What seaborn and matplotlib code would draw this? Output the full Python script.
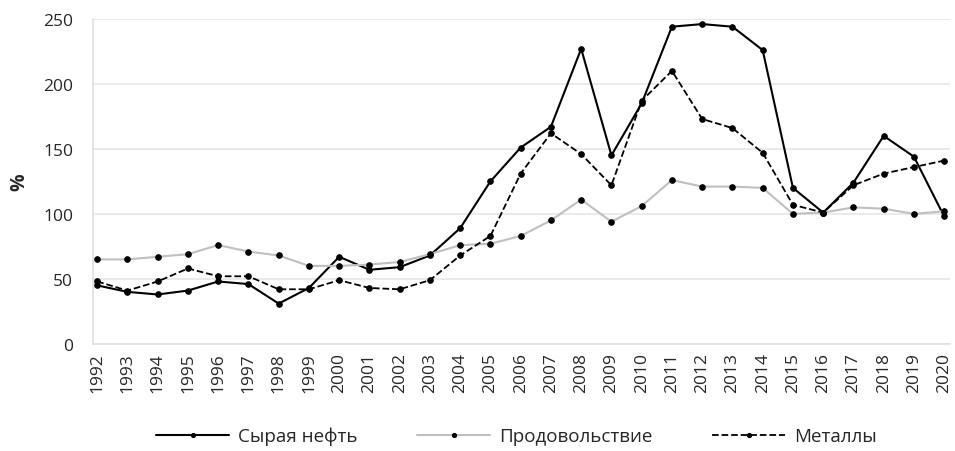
import matplotlib
matplotlib.use("Agg")
import matplotlib.pyplot as plt
import seaborn as sns
import pandas as pd

years = list(range(1992, 2021))
oil = [45, 40, 38, 41, 48, 46, 31, 43, 67, 57, 59, 68, 89, 125, 151, 167, 227, 145, 185, 244, 246, 244, 226, 120, 101, 124, 160, 144, 98]
food = [65, 65, 67, 69, 76, 71, 68, 60, 60, 61, 63, 69, 76, 77, 83, 95, 111, 94, 106, 126, 121, 121, 120, 100, 101, 105, 104, 100, 102]
metals = [48, 41, 48, 58, 52, 52, 42, 42, 49, 43, 42, 49, 68, 83, 131, 162, 146, 122, 187, 210, 173, 166, 147, 107, 101, 122, 131, 136, 141]
names = ["Сырая нефть", "Продовольствие", "Металлы"]

sns.set_theme(style="white")
plt.rcParams['font.family'] = ['Open Sans', 'DejaVu Sans']

df = pd.DataFrame({"year": years * 3,
                   "value": oil + food + metals,
                   "series": [names[0]] * len(years) + [names[1]] * len(years) + [names[2]] * len(years)})

fig = plt.figure(figsize=(9.55, 4.52), dpi=100)
ax = fig.add_axes([0.097, 0.237, 0.898, 0.719])

styles = {names[0]: dict(color="black", ls="-", lw=1.5),
          names[1]: dict(color="#bfbfbf", ls="-", lw=1.5),
          names[2]: dict(color="black", ls="--", lw=1.3)}
for n in names:
    sub = df[df.series == n]
    st = styles[n]
    sns.lineplot(data=sub, x="year", y="value", ax=ax, color=st["color"], linestyle=st["ls"],
                 linewidth=st["lw"], marker="o", markersize=4, markerfacecolor="black",
                 markeredgecolor="black", label=n)

ax.set_xlim(1991.85, 2020.2)
ax.set_ylim(0, 250)
ax.set_yticks([0, 50, 100, 150, 200, 250])
ax.set_xticks(years)
ax.set_xticklabels([str(y) for y in years], rotation=90)
ax.tick_params(axis='both', labelsize=12.5, length=0, pad=6)
ax.tick_params(axis='y', pad=14)
ax.yaxis.grid(True, color="#e6e6e6", lw=1.2)
ax.set_axisbelow(True)
for s in ["top", "right"]:
    ax.spines[s].set_visible(False)
for s in ["left", "bottom"]:
    ax.spines[s].set_color("#e0e0e0")
    ax.spines[s].set_linewidth(1.2)
ax.set_xlabel("")
ax.set_ylabel("%", fontsize=14, fontweight="bold", labelpad=10)

leg = ax.legend(loc="center", bbox_to_anchor=(0.494, -0.283), ncol=3, frameon=False,
                fontsize=13.5, handlelength=3.9, columnspacing=3.2, handletextpad=0.45)
for h in leg.legend_handles:
    h.set_markersize(3)

fig.savefig("out.png", dpi=100)
